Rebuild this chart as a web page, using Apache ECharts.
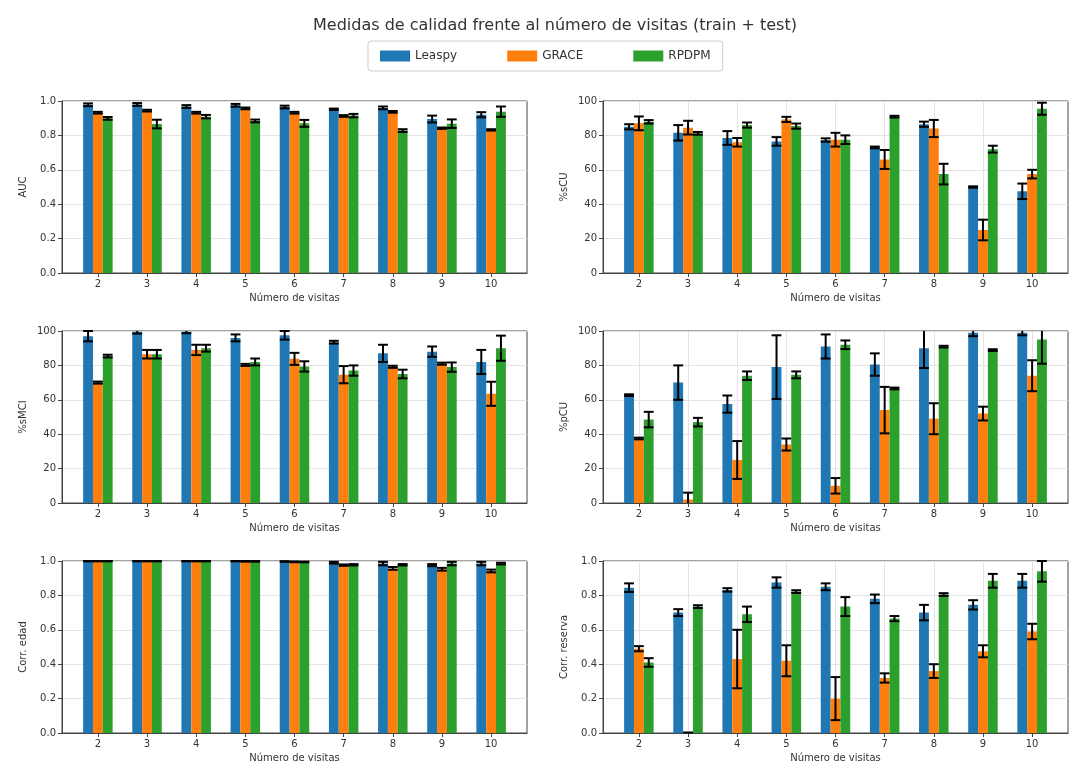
<!DOCTYPE html>
<html>
<head>
<meta charset="utf-8">
<script src="https://cdn.jsdelivr.net/npm/echarts@6/dist/echarts.min.js"></script>
<style>
  html, body { margin: 0; padding: 0; background: #fff; }
  #chart { width: 1076px; height: 769px; }
</style>
</head>
<body>
<div id="chart"></div>
<script>
// ---------------- data ----------------
const visits = [2, 3, 4, 5, 6, 7, 8, 9, 10];
const methods = ['Leaspy', 'GRACE', 'RPDPM'];
const titleText = 'Medidas de calidad frente al número de visitas (train + test)';
const xName = 'Número de visitas';
const panelNames = ['AUC', '%sCU', '%sMCI', '%pCU', 'Corr. edad', 'Corr. reserva'];

// AUC
const aucLeaspy    = [0.978, 0.98, 0.968, 0.975, 0.965, 0.952, 0.96, 0.895, 0.92];
const aucLeaspyErr = [0.008, 0.008, 0.008, 0.008, 0.008, 0.004, 0.008, 0.02, 0.015];
const aucGrace     = [0.932, 0.944, 0.932, 0.957, 0.932, 0.913, 0.937, 0.842, 0.832];
const aucGraceErr  = [0.005, 0.005, 0.005, 0.005, 0.005, 0.005, 0.005, 0.004, 0.004];
const aucRpdpm     = [0.899, 0.866, 0.909, 0.884, 0.87, 0.915, 0.828, 0.868, 0.938];
const aucRpdpmErr  = [0.008, 0.025, 0.01, 0.008, 0.02, 0.01, 0.008, 0.025, 0.03];

// %sCU
const sCuLeaspy    = [85, 81.5, 78.5, 76.5, 77.3, 73, 86.5, 50, 47.5];
const sCuLeaspyErr = [1.5, 4.5, 4, 2.5, 1, 0.5, 1.5, 0.4, 4.5];
const sCuGrace     = [87, 84.5, 76, 89.3, 77.5, 66, 84, 25, 57.5];
const sCuGraceErr  = [4, 4, 2.5, 1.5, 4, 5.5, 5, 6, 2.5];
const sCuRpdpm     = [87.9, 81.2, 86, 85.4, 77.5, 90.9, 57.5, 72, 95.5];
const sCuRpdpmErr  = [1, 0.8, 1.5, 1.5, 2.5, 0.5, 6, 2, 3.5];

// %sMCI
const sMciLeaspy    = [97, 99.5, 99.5, 96, 97.5, 93.5, 87, 88, 82];
const sMciLeaspyErr = [3, 1, 0.8, 2, 2.5, 0.8, 5, 3, 7];
const sMciGrace     = [70, 86.5, 89, 80.3, 83.8, 74.6, 79.2, 81, 63.5];
const sMciGraceErr  = [0.6, 2.5, 3, 0.6, 3.5, 5, 0.6, 0.6, 7];
const sMciRpdpm     = [85.4, 86.5, 90, 82, 79.4, 77, 75, 79, 90];
const sMciRpdpmErr  = [0.8, 2.5, 2, 2, 3, 3, 2.5, 2.7, 7.3];

// %pCU
const pCuLeaspy    = [62.7, 70, 57.5, 79, 91, 80.5, 90, 99, 99];
const pCuLeaspyErr = [0.5, 10, 5, 18.5, 7, 6.5, 11.5, 2, 1.5];
const pCuGrace     = [37.5, 2, 25, 34, 10, 54, 49, 52, 74];
const pCuGraceErr  = [0.5, 4, 11, 3.5, 4.5, 13.5, 9, 4, 9];
const pCuRpdpm     = [48.5, 47, 74, 74.5, 92, 66.6, 90.9, 88.9, 95];
const pCuRpdpmErr  = [4.5, 2.5, 2.5, 2, 2.5, 0.5, 0.5, 0.5, 14];

// Corr. edad
const edadLeaspy    = [0.999, 0.999, 0.999, 0.999, 0.997, 0.99, 0.985, 0.976, 0.985];
const edadLeaspyErr = [0.001, 0.001, 0.001, 0.001, 0.002, 0.005, 0.01, 0.006, 0.01];
const edadGrace     = [0.999, 0.999, 0.999, 0.998, 0.995, 0.976, 0.957, 0.952, 0.942];
const edadGraceErr  = [0.001, 0.001, 0.001, 0.002, 0.002, 0.004, 0.008, 0.008, 0.008];
const edadRpdpm     = [0.999, 0.999, 0.999, 0.998, 0.994, 0.978, 0.978, 0.985, 0.985];
const edadRpdpmErr  = [0.001, 0.001, 0.001, 0.002, 0.002, 0.004, 0.004, 0.01, 0.005];

// Corr. reserva
const resLeaspy    = [0.845, 0.70, 0.832, 0.875, 0.85, 0.78, 0.70, 0.745, 0.885];
const resLeaspyErr = [0.025, 0.02, 0.01, 0.03, 0.02, 0.025, 0.045, 0.027, 0.04];
const resGrace     = [0.49, 0.0, 0.43, 0.42, 0.20, 0.32, 0.36, 0.475, 0.59];
const resGraceErr  = [0.015, 0.003, 0.17, 0.09, 0.125, 0.027, 0.04, 0.035, 0.045];
const resRpdpm     = [0.41, 0.735, 0.69, 0.822, 0.735, 0.665, 0.805, 0.885, 0.94];
const resRpdpmErr  = [0.025, 0.008, 0.045, 0.008, 0.055, 0.015, 0.008, 0.04, 0.06];

const yMaxes = [1, 100, 100, 100, 1, 1];
const yIntervals = [0.2, 20, 20, 20, 0.2, 0.2];

const panelValues = [
  [aucLeaspy, aucGrace, aucRpdpm],
  [sCuLeaspy, sCuGrace, sCuRpdpm],
  [sMciLeaspy, sMciGrace, sMciRpdpm],
  [pCuLeaspy, pCuGrace, pCuRpdpm],
  [edadLeaspy, edadGrace, edadRpdpm],
  [resLeaspy, resGrace, resRpdpm]
];
const panelErrors = [
  [aucLeaspyErr, aucGraceErr, aucRpdpmErr],
  [sCuLeaspyErr, sCuGraceErr, sCuRpdpmErr],
  [sMciLeaspyErr, sMciGraceErr, sMciRpdpmErr],
  [pCuLeaspyErr, pCuGraceErr, pCuRpdpmErr],
  [edadLeaspyErr, edadGraceErr, edadRpdpmErr],
  [resLeaspyErr, resGraceErr, resRpdpmErr]
];

// ---------------- style / layout ----------------
const colors = ['#1f77b4', '#ff7f0e', '#2ca02c'];
const FONT = 'DejaVu Sans';
const TXT = '#333';
const lefts = [62, 603];
const tops = [101, 331, 561];
const gW = 465, gH = 172;
const BAR_FRAC = 0.2;

const grids = [], xAxes = [], yAxes = [], series = [];

function renderErr(params, api) {
  const x = api.value(0), lo = api.value(1), hi = api.value(2), k = api.value(3);
  const xc = x + (k - 1) * BAR_FRAC;
  const pLo = api.coord([xc, lo]);
  const pHi = api.coord([xc, hi]);
  const cs = params.coordSys;
  const top = cs.y, bot = cs.y + cs.height;
  const half = api.size([BAR_FRAC, 0])[0] * 0.5;
  const yTop = Math.max(pHi[1], top);
  const yBot = Math.min(pLo[1], bot);
  const style = { stroke: '#000', lineWidth: 2 };
  const children = [];
  if (yBot > yTop) {
    children.push({ type: 'line', shape: { x1: pLo[0], y1: yBot, x2: pLo[0], y2: yTop }, style });
  }
  if (pHi[1] >= top - 0.5) {
    children.push({ type: 'line', shape: { x1: pHi[0] - half, y1: pHi[1], x2: pHi[0] + half, y2: pHi[1] }, style });
  }
  if (pLo[1] <= bot + 0.5) {
    children.push({ type: 'line', shape: { x1: pLo[0] - half, y1: pLo[1], x2: pLo[0] + half, y2: pLo[1] }, style });
  }
  return { type: 'group', children };
}

for (let p = 0; p < 6; p++) {
  const col = p % 2, row = Math.floor(p / 2);
  grids.push({
    left: lefts[col], top: tops[row], width: gW, height: gH,
    show: true, borderColor: '#444', borderWidth: 1, backgroundColor: 'transparent'
  });
  xAxes.push({
    type: 'value', gridIndex: p, min: 1.27, max: 10.73,
    minInterval: 1, maxInterval: 1,
    name: xName, nameLocation: 'middle', nameGap: 20,
    nameTextStyle: { fontFamily: FONT, fontSize: 10, color: TXT },
    axisLine: { show: true, lineStyle: { color: '#444' } },
    axisTick: { show: true, length: 4, lineStyle: { color: '#444' }, customValues: visits },
    axisLabel: { fontFamily: FONT, fontSize: 10, color: TXT, margin: 6, customValues: visits },
    splitLine: { show: col === 1, lineStyle: { color: '#e4e4e4', width: 1 } }
  });
  yAxes.push({
    type: 'value', gridIndex: p, min: 0, max: yMaxes[p], interval: yIntervals[p],
    name: panelNames[p], nameLocation: 'middle', nameGap: 34,
    nameTextStyle: { fontFamily: FONT, fontSize: 10, color: TXT },
    axisLine: { show: true, lineStyle: { color: '#444' } },
    axisTick: { show: true, length: 4, lineStyle: { color: '#444' } },
    axisLabel: {
      fontFamily: FONT, fontSize: 10, color: TXT, margin: 6,
      formatter: v => (yMaxes[p] === 1 ? v.toFixed(1) : String(Math.round(v)))
    },
    splitLine: { show: true, lineStyle: { color: '#e4e4e4', width: 1 } }
  });

  const errData = [];
  for (let k = 0; k < 3; k++) {
    const vals = panelValues[p][k];
    const errs = panelErrors[p][k];
    series.push({
      type: 'bar', name: methods[k], xAxisIndex: p, yAxisIndex: p,
      data: visits.map((v, i) => [v, vals[i]]),
      barWidth: (BAR_FRAC * 100) + '%', barGap: '0%',
      itemStyle: { color: colors[k] },
      animation: false
    });
    visits.forEach((v, i) => errData.push([v, vals[i] - errs[i], vals[i] + errs[i], k]));
  }
  series.push({
    type: 'custom', xAxisIndex: p, yAxisIndex: p,
    renderItem: renderErr, data: errData, z: 5, animation: false,
    encode: { x: 0, y: [1, 2] }, silent: true
  });
}

const chart = echarts.init(document.getElementById('chart'), null, { renderer: 'canvas' });
chart.setOption({
  backgroundColor: '#fff',
  animation: false,
  color: colors,
  title: {
    text: titleText, left: 550, top: 13, textAlign: 'center',
    textStyle: { fontFamily: FONT, fontSize: 16, fontWeight: 'normal', color: '#333' }
  },
  legend: {
    data: methods, left: 368, top: 41,
    itemWidth: 30, itemHeight: 11, itemGap: 50, icon: 'rect',
    padding: [9, 12], borderColor: '#ccc', borderWidth: 1, borderRadius: 3,
    textStyle: { fontFamily: FONT, fontSize: 12, color: TXT }
  },
  grid: grids,
  xAxis: xAxes,
  yAxis: yAxes,
  series: series
});
</script>
</body>
</html>
